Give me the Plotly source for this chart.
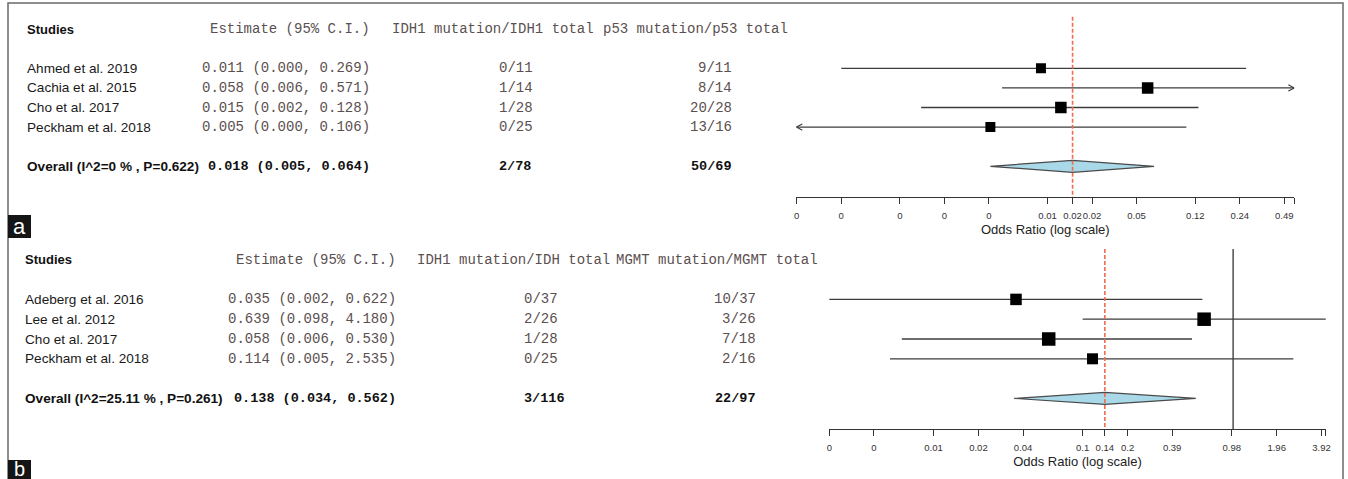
import math
import plotly.graph_objects as go

W, H = 1348, 479

# ---------------- data: panel a (IDH1 vs p53) ----------------
studies_a = ["Ahmed et al. 2019", "Cachia et al. 2015", "Cho et al. 2017", "Peckham et al. 2018"]
est_a = [0.011, 0.058, 0.015, 0.005]
lo_a = [0.00049, 0.006, 0.0017, 0.0002]
hi_a = [0.269, 0.571, 0.128, 0.106]
idh_mut_a = [0, 1, 1, 0]
idh_tot_a = [11, 14, 28, 25]
p53_mut_a = [9, 8, 20, 13]
p53_tot_a = [11, 14, 28, 16]
overall_a = [0.018, 0.005, 0.064]          # estimate, lower, upper
i2_a = "0"
p_a = 0.622
xlim_a = [0.000243, 0.570]
ticks_a = [0.000244, 0.000488, 0.00122, 0.00244, 0.00488, 0.0122, 0.018,
           0.0244, 0.0488, 0.122, 0.244, 0.488]
ticklabels_a = ["0", "0", "0", "0", "0", "0.01", "0.02", "0.02", "0.05", "0.12", "0.24", "0.49"]
box_a = [10, 11.5, 11.5, 10]
headers_a = ["Studies", "Estimate (95% C.I.)", "IDH1 mutation/IDH1 total", "p53 mutation/p53 total"]

# ---------------- data: panel b (IDH1 vs MGMT) ----------------
studies_b = ["Adeberg et al. 2016", "Lee et al. 2012", "Cho et al. 2017", "Peckham et al. 2018"]
est_b = [0.035, 0.639, 0.058, 0.114]
lo_b = [0.00196, 0.098, 0.006, 0.005]
hi_b = [0.622, 4.180, 0.530, 2.535]
idh_mut_b = [0, 2, 1, 0]
idh_tot_b = [37, 26, 28, 25]
mgmt_mut_b = [10, 3, 7, 2]
mgmt_tot_b = [37, 26, 18, 16]
overall_b = [0.138, 0.034, 0.562]
i2_b = "25.11"
p_b = 0.261
xlim_b = [0.00195, 4.19]
ticks_b = [0.00196, 0.0039, 0.0098, 0.0196, 0.039, 0.098, 0.138, 0.196,
           0.39, 0.98, 1.96, 3.92]
ticklabels_b = ["0", "0", "0.01", "0.02", "0.04", "0.1", "0.14", "0.2", "0.39", "0.98", "1.96", "3.92"]
box_b = [11.5, 13.5, 13.5, 11]
headers_b = ["Studies", "Estimate (95% C.I.)", "IDH1 mutation/IDH total", "MGMT mutation/MGMT total"]

# ---------------- styling ----------------
SANS = "Liberation Sans, Arial, sans-serif"
MONO = "Liberation Mono, Courier New, monospace"
GREY_TXT = "#5b4f4f"
LINE_C = "#3c3c3c"
DASH_C = "#f26b4a"
DIAMOND_FILL = "#a9d9e8"


def px2x(p):
    return p / W


def py2y(p):
    return 1 - p / H


panels = [
    dict(studies=studies_a, est=est_a, lo=lo_a, hi=hi_a,
         c1=(idh_mut_a, idh_tot_a), c2=(p53_mut_a, p53_tot_a),
         overall=overall_a, i2=i2_a, p=p_a, xlim=xlim_a,
         ticks=ticks_a, ticklabels=ticklabels_a, box=box_a, headers=headers_a,
         xdom=(796.3, 1294.3), ydom=(0, 197.3), row0=29.1, dy=19.6, dash_top=16.7,
         name_x=25, est_right=372, c1_head=390, c1_left=496.7, c2_head=601, c2_right=733.5,
         xa="x", ya="y"),
    dict(studies=studies_b, est=est_b, lo=lo_b, hi=hi_b,
         c1=(idh_mut_b, idh_tot_b), c2=(mgmt_mut_b, mgmt_tot_b),
         overall=overall_b, i2=i2_b, p=p_b, xlim=xlim_b,
         ticks=ticks_b, ticklabels=ticklabels_b, box=box_b, headers=headers_b,
         xdom=(829.0, 1325.9), ydom=(236, 429), row0=259.8, dy=19.8, dash_top=249,
         name_x=22.7, est_right=397.5, c1_head=414.5, c1_left=521.7, c2_head=614.3, c2_right=758,
         xa="x2", ya="y2"),
]

fig = go.Figure()
annotations = []
layout_axes = {}

for k, P in enumerate(panels):
    xa, ya = P["xa"], P["ya"]
    n = len(P["studies"])
    rows = [2 + i for i in range(n)]
    r_over = 2 + n + 1
    xmin, xmax = P["xlim"]
    lnspan = math.log(xmax / xmin)
    px_per_ln = (P["xdom"][1] - P["xdom"][0]) / lnspan
    r_top = (P["ydom"][0] - P["row0"]) / P["dy"]
    r_bot = (P["ydom"][1] - P["row0"]) / P["dy"]

    est_o, lo_o, hi_o = P["overall"]
    r_dash = (P["dash_top"] - P["row0"]) / P["dy"]
    # null (OR = 1) line if inside the axis range
    if xmin < 1 < xmax:
        fig.add_trace(go.Scatter(x=[1, 1], y=[r_dash, r_bot], mode="lines",
                                 line=dict(color="#333", width=1.3),
                                 xaxis=xa, yaxis=ya, hoverinfo="skip", showlegend=False))

    # CI lines, clipped to the axis with arrow heads
    cx, cy = [], []
    ax_, ay_ = [], []
    arm = math.exp(6 / px_per_ln)
    for lo, hi, r in zip(P["lo"], P["hi"], rows):
        l = max(lo, xmin)
        h = min(hi, xmax)
        cx += [l, h, None]
        cy += [r, r, None]
        if lo < xmin:
            ax_ += [xmin * arm, xmin, xmin * arm, None]
            ay_ += [r - 0.16, r, r + 0.16, None]
        if hi > xmax:
            ax_ += [xmax / arm, xmax, xmax / arm, None]
            ay_ += [r - 0.16, r, r + 0.16, None]
    fig.add_trace(go.Scatter(x=cx, y=cy, mode="lines", line=dict(color=LINE_C, width=1.3),
                             xaxis=xa, yaxis=ya, hoverinfo="skip", showlegend=False))
    if ax_:
        fig.add_trace(go.Scatter(x=ax_, y=ay_, mode="lines", line=dict(color=LINE_C, width=1.1),
                                 xaxis=xa, yaxis=ya, hoverinfo="skip", showlegend=False))

    # study squares
    fig.add_trace(go.Scatter(x=P["est"], y=rows, mode="markers",
                             marker=dict(symbol="square", color="#000000", size=P["box"],
                                         opacity=1, line=dict(width=0)),
                             xaxis=xa, yaxis=ya, showlegend=False))

    # overall diamond
    hh = 6 / P["dy"]
    fig.add_trace(go.Scatter(x=[lo_o, est_o, hi_o, est_o, lo_o],
                             y=[r_over, r_over - hh, r_over, r_over + hh, r_over],
                             mode="lines", fill="toself", fillcolor=DIAMOND_FILL,
                             line=dict(color="#4a4a4a", width=1.2),
                             xaxis=xa, yaxis=ya, hoverinfo="skip", showlegend=False))

    # dashed line at the pooled estimate
    fig.add_trace(go.Scatter(x=[est_o, est_o], y=[r_dash, r_bot], mode="lines",
                             line=dict(color=DASH_C, width=1.6, dash="4px,2px"),
                             xaxis=xa, yaxis=ya, hoverinfo="skip", showlegend=False))

    # axes
    xkey = "xaxis" if xa == "x" else "xaxis2"
    ykey = "yaxis" if ya == "y" else "yaxis2"
    layout_axes[xkey] = dict(
        type="log", domain=[px2x(P["xdom"][0]), px2x(P["xdom"][1])],
        range=[math.log10(xmin), math.log10(xmax)], anchor=ya,
        showgrid=False, zeroline=False, showline=True, linecolor="#333", linewidth=1.2,
        ticks="outside", ticklen=6, tickwidth=1.2, tickcolor="#333", tickangle=0,
        tickvals=P["ticks"] + [xmax], ticktext=P["ticklabels"] + [""],
        tickfont=dict(family=SANS, size=9.5, color="#333"), ticklabelstandoff=3,
        title=dict(text="Odds Ratio (log scale)", font=dict(family=SANS, size=13, color="#222"),
                   standoff=5),
        automargin=False, fixedrange=True,
    )
    layout_axes[ykey] = dict(
        domain=[py2y(P["ydom"][1]), py2y(P["ydom"][0])], range=[r_bot, r_top],
        visible=False, fixedrange=True,
    )

    # text table
    def ann(x, r, text, anchor, font):
        annotations.append(dict(x=x, y=r, xref="x3", yref=ya, text=text, showarrow=False,
                                xanchor=anchor, yanchor="middle", font=font))

    f_name = dict(family=SANS, size=13.6, color="#1a1a1a")
    f_bold = dict(family=SANS, size=13.6, color="#111")
    f_mono = dict(family=MONO, size=14, color=GREY_TXT)
    f_monob = dict(family=MONO, size=13.5, color="#111")
    h = P["headers"]
    ann(P["name_x"], 0, "<b>%s</b>" % h[0], "left", dict(family=SANS, size=13, color="#111"))
    ann(P["est_right"], 0, h[1], "right", f_mono)
    ann(P["c1_head"], 0, h[2], "left", f_mono)
    ann(P["c2_head"], 0, h[3], "left", f_mono)
    for i in range(n):
        r = rows[i]
        ann(P["name_x"], r, P["studies"][i], "left", f_name)
        ann(P["est_right"], r, "%.3f (%.3f, %.3f)" % (P["est"][i], P["lo"][i], P["hi"][i]),
            "right", f_mono)
        ann(P["c1_left"], r, "%d/%d" % (P["c1"][0][i], P["c1"][1][i]), "left", f_mono)
        ann(P["c2_right"], r, "%d/%d" % (P["c2"][0][i], P["c2"][1][i]), "right", f_mono)
    ann(P["name_x"], r_over, "<b>Overall (I^2=%s %% , P=%.3f)</b>" % (P["i2"], P["p"]), "left", f_bold)
    ann(P["est_right"], r_over, "<b>%.3f (%.3f, %.3f)</b>" % (est_o, lo_o, hi_o), "right", f_monob)
    ann(P["c1_left"], r_over, "<b>%d/%d</b>" % (sum(P["c1"][0]), sum(P["c1"][1])), "left", f_monob)
    ann(P["c2_right"], r_over, "<b>%d/%d</b>" % (sum(P["c2"][0]), sum(P["c2"][1])), "right", f_monob)

# pixel-based x axis for the text table
layout_axes["xaxis3"] = dict(domain=[0, 1], range=[0, W], visible=False, anchor="y", fixedrange=True)

# panel letters
for letter, cy_px, fs in [("a", 226, 22), ("b", 469, 20)]:
    annotations.append(dict(x=px2x(19.5), y=py2y(cy_px), xref="paper", yref="paper",
                            text=letter, showarrow=False, xanchor="center", yanchor="middle",
                            font=dict(family=SANS, size=fs, color="white")))

shapes = [
    dict(type="rect", xref="paper", yref="paper", x0=px2x(8), x1=px2x(1343),
         y0=py2y(3), y1=-0.1, line=dict(color="#6a6a6a", width=1.5), layer="below"),
    dict(type="rect", xref="paper", yref="paper", x0=px2x(8), x1=px2x(31),
         y0=py2y(238), y1=py2y(215), fillcolor="#151515", line=dict(width=0), layer="below"),
    dict(type="rect", xref="paper", yref="paper", x0=px2x(8), x1=px2x(31),
         y0=-0.05, y1=py2y(460), fillcolor="#151515", line=dict(width=0), layer="below"),
]

fig.update_layout(
    width=W, height=H, margin=dict(l=0, r=0, t=0, b=0),
    paper_bgcolor="white", plot_bgcolor="rgba(0,0,0,0)",
    showlegend=False, annotations=annotations, shapes=shapes,
    **layout_axes,
)

fig.write_html(
    "out.html",
    config={"displayModeBar": False},
    post_script="document.body.style.margin='0';document.body.style.overflow='hidden';",
)
